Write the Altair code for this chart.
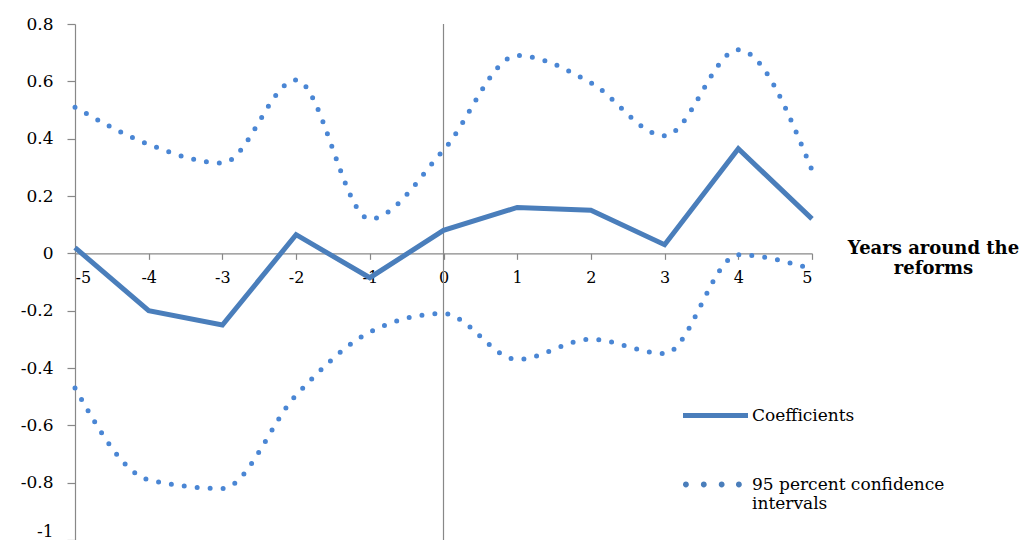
import altair as alt
import pandas as pd

# ---- data ----
years = [-5, -4, -3, -2, -1, 0, 1, 2, 3, 4, 5]
coefficients = [0.02, -0.20, -0.25, 0.065, -0.085, 0.08, 0.16, 0.15, 0.03, 0.365, 0.12]
upper_ci = [0.51, 0.38, 0.315, 0.605, 0.12, 0.36, 0.69, 0.595, 0.41, 0.71, 0.29]
lower_ci = [-0.47, -0.79, -0.82, -0.495, -0.275, -0.21, -0.37, -0.30, -0.35, -0.005, -0.055]
y_ticks = [-1, -0.8, -0.6, -0.4, -0.2, 0, 0.2, 0.4, 0.6, 0.8]
x_ticks = years
reference_year = [0]

COEF = "Coefficients"
CI = "95 percent confidence intervals"
series_names = [COEF, CI]
x_title = ["Years around the", "reforms"]

coef_df = pd.DataFrame({"year": years, "value": coefficients, "series": COEF, "bound": "coef"})
ci_df = pd.concat([
    pd.DataFrame({"year": years, "value": upper_ci, "series": CI, "bound": "upper"}),
    pd.DataFrame({"year": years, "value": lower_ci, "series": CI, "bound": "lower"}),
])
all_df = pd.concat([coef_df, ci_df])
ref_df = pd.DataFrame({"year": reference_year})

W, H = 737, 516
Y_MIN, Y_MAX = -1, 0.8
x_axis_offset = -H * (0 - Y_MIN) / (Y_MAX - Y_MIN)

BLUE = "#4a7ebb"
DOT = "#4a86d4"
GREY = "#888888"
FONT = "DejaVu Serif"

# legend swatches as symbol paths in the unit box [-1, 1]
SOLID_SWATCH = "M-1,-0.075 L1,-0.075 L1,0.075 L-1,0.075 Z"
def _dot(cx, cy, r):
    return f"M{cx - r},{cy} a{r},{r} 0 1,0 {2 * r},0 a{r},{r} 0 1,0 {-2 * r},0 Z"
DOT_SWATCH = " ".join(_dot(cx, 0, 0.09) for cx in (-0.91, -0.36, 0.19, 0.72))

x_scale = alt.Scale(domain=[-5, 5], nice=False, zero=False)
y_scale = alt.Scale(domain=[Y_MIN, Y_MAX], nice=False, zero=False)
shape_scale = alt.Scale(domain=series_names, range=[SOLID_SWATCH, DOT_SWATCH])

x_axis = alt.Axis(
    values=x_ticks, offset=x_axis_offset, grid=False, ticks=True,
    domainColor=GREY, tickColor=GREY, tickSize=6, tickWidth=1.2, domainWidth=1.2,
    labelFont=FONT, labelFontSize=16, labelColor="black", labelPadding=10,
    labelExpr="toString(datum.value)",
    title=x_title, titleFont=FONT, titleFontSize=18, titleFontWeight="bold",
    titleColor="black", titleX=858, titleY=-14, titleAlign="center",
    titleBaseline="top", titleLineHeight=20, titleAngle=0,
)
y_axis = alt.Axis(
    values=y_ticks, grid=False, title=None, ticks=True,
    domainColor=GREY, tickColor=GREY, tickSize=8, tickWidth=1.2, domainWidth=1.2,
    labelFont=FONT, labelFontSize=17, labelColor="black", labelPadding=14,
    labelBaseline={"condition": {"test": "datum.value <= -1", "value": "bottom"},
                   "value": "middle"},
    labelExpr="toString(round(datum.value * 10) / 10)",
)

legend = alt.Legend(
    title=None, orient="none", legendX=608, legendY=359,
    symbolSize=4225, symbolStrokeWidth=0, symbolFillColor=BLUE, symbolOpacity=1,
    padding=0, rowPadding=28, labelOffset=4,
    labelFont=FONT, labelFontSize=17, labelColor="black", labelLimit=400,
    labelExpr="datum.label == '" + CI + "' ? ['95 percent confidence', 'intervals'] : datum.label",
)

zero_rule = alt.Chart(ref_df).mark_rule(color=GREY, strokeWidth=1.2).encode(
    x=alt.X("year:Q", scale=x_scale, axis=x_axis),
)

ci_lines = alt.Chart(ci_df).mark_line(
    color=DOT, strokeWidth=5, strokeCap="round", strokeDash=[0, 13], interpolate="monotone"
).encode(
    x=alt.X("year:Q", scale=x_scale, axis=x_axis),
    y=alt.Y("value:Q", scale=y_scale, axis=y_axis),
    detail="bound:N",
)

coef_line = alt.Chart(coef_df).mark_line(
    color=BLUE, strokeWidth=5, strokeJoin="miter"
).encode(
    x=alt.X("year:Q", scale=x_scale, axis=x_axis),
    y=alt.Y("value:Q", scale=y_scale, axis=y_axis),
)

# legend-only layer (no data rows drawn); the shape legend shows both series
legend_layer = alt.Chart(all_df).transform_filter("false").mark_point(
    filled=True, opacity=1, color=BLUE
).encode(
    x=alt.X("year:Q", scale=x_scale, axis=x_axis),
    y=alt.Y("value:Q", scale=y_scale, axis=y_axis),
    shape=alt.Shape("series:N", scale=shape_scale, legend=legend),
)

chart = alt.layer(zero_rule, ci_lines, coef_line, legend_layer).properties(
    width=W, height=H, background="white",
    autosize=alt.AutoSizeParams(type="none"),
    padding={"left": 67, "top": 16, "right": 212, "bottom": 0},
).configure_view(stroke=None)

chart.save("out.html", embed_options={"renderer": "svg", "actions": False})
